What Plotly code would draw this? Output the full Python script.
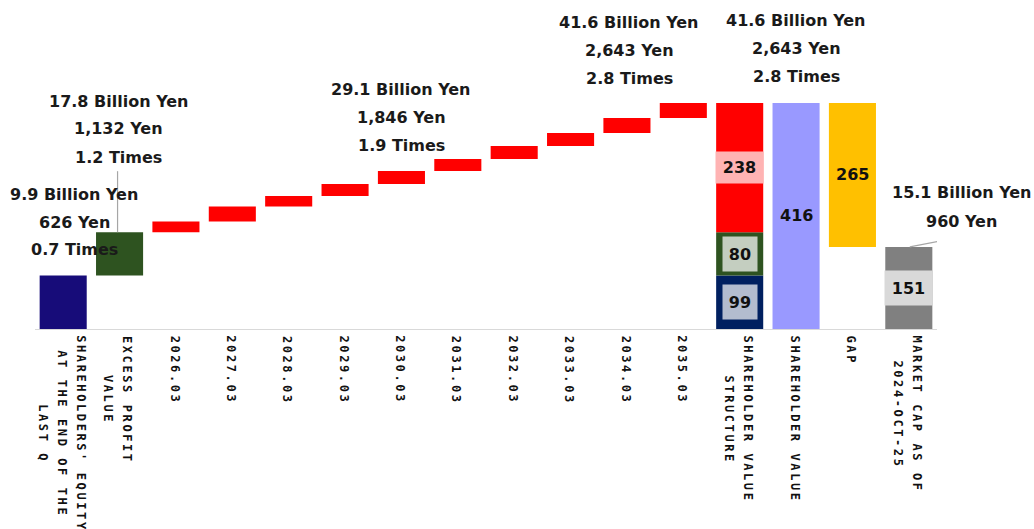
import plotly.graph_objects as go

# ---------------- data ----------------
categories = [
    "SHAREHOLDERS' EQUITY AT THE END OF THE LAST Q",
    "EXCESS PROFIT VALUE",
    "2026.03", "2027.03", "2028.03", "2029.03", "2030.03",
    "2031.03", "2032.03", "2033.03", "2034.03", "2035.03",
    "SHAREHOLDER VALUE STRUCTURE",
    "SHAREHOLDER VALUE",
    "GAP",
    "MARKET CAP AS OF 2024-OCT-25",
]
tick_lines = [
    ["SHAREHOLDERS' EQUITY", "AT THE END OF THE", "LAST Q"],
    ["EXCESS PROFIT", "VALUE"],
    ["2026.03"], ["2027.03"], ["2028.03"], ["2029.03"], ["2030.03"],
    ["2031.03"], ["2032.03"], ["2033.03"], ["2034.03"], ["2035.03"],
    ["SHAREHOLDER VALUE", "STRUCTURE"],
    ["SHAREHOLDER VALUE"],
    ["GAP"],
    ["MARKET CAP AS OF", "2024-OCT-25"],
]
years = ["2026.03", "2027.03", "2028.03", "2029.03", "2030.03",
         "2031.03", "2032.03", "2033.03", "2034.03", "2035.03"]

equity = 98.6            # 100M yen
excess_profit = 79.6
yearly_increments = [19.5, 27.6, 19.6, 22.2, 23.7, 22.3, 23.9, 24.0, 27.6, 27.6]
market_cap = 151.1

callout_equity = ["9.9 Billion Yen", "626 Yen", "0.7 Times"]
callout_excess = ["17.8 Billion Yen", "1,132 Yen", "1.2 Times"]
callout_2030 = ["29.1 Billion Yen", "1,846 Yen", "1.9 Times"]
callout_2035 = ["41.6 Billion Yen", "2,643 Yen", "2.8 Times"]
callout_value = ["41.6 Billion Yen", "2,643 Yen", "2.8 Times"]
callout_mcap = ["15.1 Billion Yen", "960 Yen"]

# ---------------- derived ----------------
start = equity + excess_profit
year_bases = []
run = start
for inc in yearly_increments:
    year_bases.append(run)
    run += inc
total_value = run
future_sum = sum(yearly_increments)
gap = total_value - market_cap

C_EQ = "#170c79"
C_NAVY = "#002060"
C_GREEN = "#2e5320"
C_RED = "#ff0000"
C_LAV = "#9999ff"
C_GOLD = "#ffc000"
C_GRAY = "#808080"

fig = go.Figure()

def add_bar(x, y, base, color):
    fig.add_trace(go.Bar(x=x, y=y, base=base, marker=dict(color=color, line=dict(width=0)),
                         hoverinfo="skip"))

add_bar([categories[0]], [equity], [0], C_EQ)
add_bar([categories[1]], [excess_profit], [equity], C_GREEN)
add_bar(years, yearly_increments, year_bases, C_RED)
add_bar([categories[12]] * 3, [equity, excess_profit, future_sum], [0, equity, start],
        [C_NAVY, C_GREEN, C_RED])
add_bar([categories[13]], [total_value], [0], C_LAV)
add_bar([categories[14]], [gap], [market_cap], C_GOLD)
add_bar([categories[15]], [market_cap], [0], C_GRAY)

annotations = []

# ---- category labels (rotated, centered lines, letter-spaced) ----
LS = 2.6        # letter spacing px
ADV = 7.22 + LS  # advance per char (DejaVu Sans Mono 12px)
PITCH = 19
for i, lines in enumerate(tick_lines):
    n = len(lines)
    lmax = max(len(s) for s in lines)
    center_shift = -(8 + (lmax * ADV - LS) / 2)
    for k, s in enumerate(lines):
        annotations.append(dict(
            x=i, xref="x", y=0, yref="paper",
            xanchor="center", yanchor="middle", textangle=90,
            xshift=((n - 1) / 2 - k) * PITCH - 1.5, yshift=center_shift,
            text=f'<span style="letter-spacing:{LS}px">{s}</span>',
            showarrow=False,
            font=dict(family="DejaVu Sans Mono", size=12, color="#111111", weight="bold"),
        ))

# ---- callouts ----
CALL_FONT = dict(family="DejaVu Sans", size=16, color="#1a1a1a", weight="bold")

def callout(idx, yval, lines, yshifts, xshift=0):
    for s, ys in zip(lines, yshifts):
        annotations.append(dict(x=idx, xref="x", y=yval, yref="y", text=s,
                                showarrow=False, xanchor="center", yanchor="middle",
                                xshift=xshift, yshift=ys, font=CALL_FONT))

callout(0, equity, callout_equity, [80.5, 52.5, 25.5], xshift=11)
callout(1, start, callout_excess, [131, 103.5, 75], xshift=-1)
callout(6, year_bases[4] + yearly_increments[4], callout_2030, [82, 54, 26])
callout(11, total_value, callout_2035, [80, 52, 24], xshift=-54)
callout(13, total_value, callout_value, [82, 54, 26])
callout(15, market_cap, callout_mcap, [54, 25], xshift=53)

# ---- inner value labels ----
IN_FONT = dict(family="DejaVu Sans", size=16, color="#111111", weight="bold")

def inner(idx, lo, hi, value, bg=None, w=None, h=None):
    d = dict(x=idx, xref="x", y=(lo + hi) / 2, yref="y", text=f"{value:.0f}",
             showarrow=False, xanchor="center", yanchor="middle", font=IN_FONT,
             borderpad=0)
    if bg:
        d.update(bgcolor=bg, width=w, height=h)
    annotations.append(d)

inner(12, start, total_value, future_sum, "#ffb3b3", 47, 31)
inner(12, equity, start, excess_profit, "#c4cec0", 34, 34)
inner(12, 0, equity, equity, "#b3bccf", 34, 34)
inner(13, 0, total_value, total_value)
inner(14, market_cap, total_value, gap)
inner(15, 0, market_cap, market_cap, "#d9d9d9", 47, 34)

# ---- leader lines ----
shapes = [
    dict(type="line", xref="x", yref="y", xsizemode="pixel", ysizemode="pixel",
         xanchor=1, yanchor=start, x0=-2, x1=-2, y0=0, y1=61,
         line=dict(color="#a6a6a6", width=1.2)),
    dict(type="line", xref="x", yref="y", xsizemode="pixel", ysizemode="pixel",
         xanchor=15, yanchor=market_cap, x0=1, x1=52, y0=0, y1=10,
         line=dict(color="#a6a6a6", width=1.2)),
]

fig.update_layout(
    width=1034, height=529,
    margin=dict(l=35, r=97, t=0, b=200),
    paper_bgcolor="white", plot_bgcolor="white",
    barmode="overlay", bargap=0.165, showlegend=False,
    xaxis=dict(type="category", categoryorder="array", categoryarray=categories,
               showticklabels=False, ticks="", showgrid=False, zeroline=False,
               showline=True, linecolor="#d9d9d9", linewidth=1,
               range=[-0.5, len(categories) - 0.5]),
    yaxis=dict(visible=False, range=[0, 605.6], showgrid=False, zeroline=False),
    annotations=annotations,
    shapes=shapes,
)

fig.write_html("out.html")
